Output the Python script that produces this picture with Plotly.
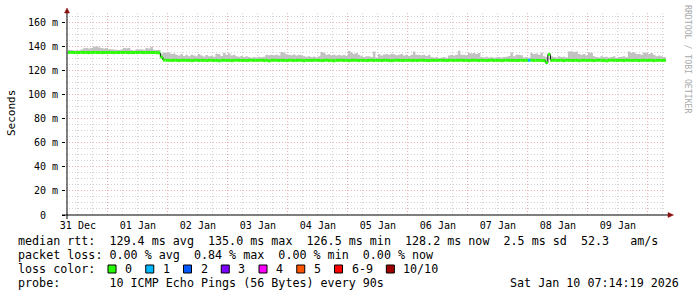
import plotly.graph_objects as go
import pandas as pd

# ---------------- data ----------------
start_time = "2025-12-31 08:00"          # first hourly sample
range_start = "2025-12-31 07:14:19"
range_end = "2026-01-10 07:14:19"

median_ms = [
    134.9, 135.0, 134.9, 134.8, 134.9, 135.0, 134.9, 134.9, 134.8, 134.9, 135.0, 134.9,
    134.9, 134.8, 134.9, 134.9, 135.0, 134.9, 134.8, 134.9, 134.9, 134.9, 135.0, 134.9,
    134.8, 134.9, 134.9, 134.9, 135.0, 134.9, 134.8, 134.9, 134.9, 134.9, 134.9, 134.8,
    134.6, 131.0, 128.6, 128.5, 128.4, 128.3, 128.5, 128.4, 128.2, 128.4, 128.5, 128.3,
    128.4, 128.1, 128.4, 128.5, 128.3, 128.4, 128.4, 128.2, 128.5, 128.4, 128.3, 128.4,
    128.0, 128.4, 128.5, 128.3, 128.4, 128.1, 128.4, 128.5, 128.4, 128.3, 128.4, 128.2,
    128.4, 128.5, 128.3, 128.4, 128.4, 128.5, 128.3, 128.4, 128.0, 128.4, 128.5, 128.4,
    128.3, 128.4, 128.4, 128.2, 128.5, 128.4, 128.3, 128.4, 128.5, 128.4, 128.1, 128.4,
    128.4, 128.3, 128.5, 128.4, 128.4, 128.2, 128.4, 128.5, 128.3, 128.4, 128.0, 128.4,
    128.4, 128.5, 128.3, 128.4, 128.1, 128.4, 128.5, 128.4, 128.3, 128.4, 128.4, 128.2,
    128.4, 128.5, 128.3, 128.4, 128.4, 128.2, 128.5, 128.4, 128.3, 128.1, 128.4, 128.5,
    128.4, 128.3, 128.4, 128.4, 128.5, 128.2, 128.4, 128.3, 128.4, 128.5, 128.4, 128.3,
    128.2, 128.4, 128.4, 128.3, 128.5, 128.4, 128.4, 128.2, 128.4, 128.5, 128.3, 128.4,
    128.4, 128.5, 128.3, 128.4, 128.1, 128.4, 128.5, 128.4, 128.3, 128.4, 128.4, 128.2,
    128.4, 128.5, 128.3, 128.4, 128.4, 128.1, 128.4, 128.5, 128.4, 128.3, 128.4, 128.2,
    128.4, 128.5, 128.3, 128.4, 128.4, 128.5, 128.3, 128.4, 128.4, 128.2, 128.3, 126.5,
    133.4, 128.4, 128.5, 128.3, 128.4, 128.4, 128.2, 128.5, 128.4, 128.3, 128.4, 128.4,
    128.1, 128.4, 128.5, 128.3, 128.4, 128.4, 128.2, 128.4, 128.5, 128.3, 128.4, 128.0,
    128.4, 128.5, 128.4, 128.3, 128.4, 128.4, 128.2, 128.5, 128.4, 128.3, 128.4, 128.4,
    128.2, 128.4, 128.5, 128.3, 128.4, 128.4, 128.1, 128.4, 128.5, 128.3, 128.4, 128.2,
]

smoke_top_ms = [
    137.2, 137.0, 136.6, 136.8, 136.5, 137.4, 138.4, 138.6, 138.2, 138.6, 139.6, 140.0,
    139.2, 138.6, 138.2, 138.6, 137.9, 137.7, 137.4, 137.2, 136.9, 137.3, 138.6, 138.4,
    138.6, 137.0, 136.6, 137.7, 137.5, 137.7, 137.2, 138.6, 138.3, 139.5, 137.2, 137.0,
    137.2, 134.0, 135.0, 134.4, 135.0, 133.6, 134.0, 133.1, 132.5, 133.6, 132.0, 133.1,
    131.7, 133.0, 132.5, 131.7, 133.6, 132.4, 131.5, 132.8, 131.7, 132.2, 131.4, 133.9,
    133.6, 132.0, 134.5, 133.0, 134.2, 132.5, 133.0, 131.7, 131.4, 131.9, 131.2, 131.7,
    131.1, 130.6, 131.1, 130.8, 131.3, 130.9, 131.4, 133.1, 132.6, 133.0, 132.7, 133.1,
    132.4, 135.3, 135.0, 133.4, 133.1, 132.7, 133.3, 132.5, 133.1, 132.6, 131.7, 131.3,
    131.7, 131.1, 131.5, 130.9, 131.7, 135.3, 134.6, 133.1, 133.5, 132.6, 133.1, 132.4,
    133.0, 132.5, 133.1, 132.1, 136.4, 134.9, 133.6, 134.4, 133.1, 131.7, 131.2, 131.7,
    131.7, 131.1, 135.8, 130.8, 133.6, 132.4, 133.2, 133.6, 133.1, 133.9, 133.4, 132.6,
    133.1, 133.6, 132.5, 133.1, 132.1, 133.1, 135.8, 133.1, 133.1, 132.6, 133.1, 132.1,
    133.1, 131.1, 130.8, 131.1, 130.3, 130.8, 131.1, 130.6, 132.5, 133.1, 132.5, 133.0,
    136.4, 133.1, 133.1, 132.6, 134.4, 134.0, 134.4, 133.7, 134.4, 131.1, 130.8, 131.3,
    130.8, 131.1, 130.6, 130.9, 131.2, 130.8, 131.1, 131.4, 132.0, 135.0, 131.7, 133.1,
    133.1, 132.6, 130.8, 131.1, 130.6, 134.4, 133.6, 134.0, 133.1, 134.4, 131.7, 131.2,
    133.8, 131.7, 131.1, 130.8, 131.7, 131.1, 131.4, 130.8, 135.8, 136.0, 135.4, 135.8,
    133.6, 133.1, 133.6, 132.4, 135.0, 134.6, 131.7, 131.1, 130.8, 131.7, 131.1, 131.4,
    130.8, 131.1, 131.7, 130.6, 131.1, 131.4, 131.7, 130.9, 135.8, 134.4, 135.2, 133.6,
    133.6, 133.1, 135.0, 134.4, 133.6, 134.4, 133.1, 131.7, 132.5, 131.7, 131.1, 130.8,
]

loss_times = ["2026-01-08 00:00"]
loss_counts = [1]

loss_labels = ["0", "1", "2", "3", "4", "5", "6-9", "10/10"]
loss_colors = ["#26ff00", "#00b8ff", "#0059ff", "#7e00ff", "#ff00ff", "#ff5500", "#ff0000", "#a10000"]

y_tick_values = [0, 20, 40, 60, 80, 100, 120, 140, 160]
y_tick_labels = ["0\u00a0\u00a0", "20 m", "40 m", "60 m", "80 m", "100 m", "120 m", "140 m", "160 m"]

legend_line1 = "median rtt:  129.4 ms avg  135.0 ms max  126.5 ms min  128.2 ms now  2.5 ms sd  52.3   am/s"
legend_line2 = "packet loss: 0.00 % avg  0.84 % max  0.00 % min  0.00 % now"
legend_line3 = "loss color:"
legend_line4 = "probe:       10 ICMP Echo Pings (56 Bytes) every 90s"
timestamp_text = "Sat Jan 10 07:14:19 2026"
watermark = "RRDTOOL / TOBI OETIKER"
y_title = "Seconds"

# ---------------- derived ----------------
times = pd.date_range(start_time, periods=len(median_ms), freq="h")
times_ext = list(times) + [times[-1] + pd.Timedelta(hours=1)]
med_ext = median_ms + [median_ms[-1]]
top_ext = smoke_top_ms + [smoke_top_ms[-1]]

loss_by_time = {pd.Timestamp(t): c for t, c in zip(loss_times, loss_counts)}


def bucket(count):
    if count <= 5:
        return count
    if count < 10:
        return 6
    return 7


buckets = [bucket(loss_by_time.get(t, 0)) for t in times]

MONO = "DejaVu Sans Mono"
L, R, T, B = 66, 31, 13, 82
W, H = 697, 297
PW, PH = W - L - R, H - T - B


def px(x):
    return (x - L) / PW


def py(y):
    return (H - B - y) / PH


fig = go.Figure()

# smoke band
fig.add_trace(go.Scatter(x=times_ext, y=med_ext, mode="lines", line=dict(width=0, shape="hv"),
                         showlegend=False, hoverinfo="skip"))
fig.add_trace(go.Scatter(x=times_ext, y=top_ext, mode="lines", line=dict(width=0, shape="hv"),
                         fill="tonexty", fillcolor="#c2c2c2", showlegend=False, hoverinfo="skip"))

# black vertical steps where the median jumps
vx, vy = [], []
for i in range(1, len(median_ms)):
    if abs(median_ms[i] - median_ms[i - 1]) > 1.0:
        vx += [times[i], times[i], None]
        vy += [median_ms[i - 1], median_ms[i], None]
fig.add_trace(go.Scatter(x=vx, y=vy, mode="lines", line=dict(width=1, color="#000000"),
                         showlegend=False, hoverinfo="skip"))

# median coloured by loss bucket (horizontal segments)
for b, col in enumerate(loss_colors):
    xs, ys = [], []
    for i, t in enumerate(times):
        if buckets[i] == b:
            xs += [t, times_ext[i + 1], None]
            ys += [median_ms[i], median_ms[i], None]
    if xs:
        fig.add_trace(go.Scatter(x=xs, y=ys, mode="lines", line=dict(width=3, color=col),
                                 showlegend=False, hoverinfo="skip"))

major_grid = "#eab0b0"
minor_grid = "#d4d4d4"

fig.update_xaxes(
    type="date", range=[range_start, range_end],
    tick0="2025-12-31", dtick=86400000, ticklabelmode="period", tickformat="%d %b",
    showgrid=True, gridcolor=major_grid, griddash="1px,2px", gridwidth=1,
    showline=False, zeroline=False, ticks="", ticklabelstandoff=3,
    tickfont=dict(family=MONO, size=10, color="#000000"),
    minor=dict(dtick=6 * 3600000, tick0="2025-12-31", showgrid=True, gridcolor=minor_grid,
               griddash="1px,2px", gridwidth=1),
    fixedrange=True,
)
fig.update_yaxes(
    range=[0, 167.7], tickvals=y_tick_values, ticktext=y_tick_labels,
    showgrid=True, gridcolor=major_grid, griddash="1px,2px", gridwidth=1,
    showline=False, zeroline=False, ticks="outside", ticklen=3, tickcolor="#000000",
    ticklabelstandoff=2,
    tickfont=dict(family=MONO, size=10, color="#000000"),
    minor=dict(dtick=5, showgrid=True, gridcolor=minor_grid, griddash="1px,2px", gridwidth=1),
    fixedrange=True,
)

shapes = [
    dict(type="line", xref="paper", yref="paper", x0=px(62), x1=px(669), y0=0, y1=0,
         line=dict(color="#000000", width=1)),
    dict(type="line", xref="paper", yref="paper", x0=px(67), x1=px(67), y0=py(219), y1=py(11),
         line=dict(color="#000000", width=1)),
    dict(type="path", xref="paper", yref="paper",
         path=f"M {px(64.5)},{py(13)} L {px(69.5)},{py(13)} L {px(67)},{py(8)} Z",
         fillcolor="#8b1010", line=dict(color="#8b1010", width=0.5)),
    dict(type="path", xref="paper", yref="paper",
         path=f"M {px(668)},{py(212.5)} L {px(668)},{py(217.5)} L {px(673.5)},{py(215)} Z",
         fillcolor="#8b1010", line=dict(color="#8b1010", width=0.5)),
]

annotations = [
    dict(text=y_title, xref="paper", yref="paper", x=px(11), y=py(113), textangle=-90,
         showarrow=False, font=dict(family=MONO, size=11, color="#000000"), xanchor="center", yanchor="middle"),
    dict(text=watermark, xref="paper", yref="paper", x=px(688), y=py(59), textangle=90,
         showarrow=False, font=dict(family=MONO, size=8.2, color="#aaaaaa"), xanchor="center", yanchor="middle"),
]

legend_rows = [(legend_line1, 241.5), (legend_line2, 255.2), (legend_line3, 269.2), (legend_line4, 282.8)]
for txt, yy in legend_rows:
    annotations.append(dict(text=txt.replace(" ", "\u00a0"), xref="paper", yref="paper", x=px(15.5), y=py(yy),
                            showarrow=False, xanchor="left", yanchor="middle",
                            font=dict(family=MONO, size=11.7, color="#000000")))
annotations.append(dict(text=timestamp_text.replace(" ", "\u00a0"), xref="paper", yref="paper", x=px(681),
                        y=py(282.8), showarrow=False, xanchor="right", yanchor="middle",
                        font=dict(family=MONO, size=11.7, color="#000000")))

pos = 108.0
for lab, col in zip(loss_labels, loss_colors):
    shapes.append(dict(type="rect", xref="paper", yref="paper", x0=px(pos), x1=px(pos + 8),
                       y0=py(273), y1=py(265), fillcolor=col, line=dict(color="#000000", width=1)))
    annotations.append(dict(text=lab, xref="paper", yref="paper", x=px(pos + 15), y=py(269.2),
                            showarrow=False, xanchor="left", yanchor="middle",
                            font=dict(family=MONO, size=11.7, color="#000000")))
    pos += 16 + 7.05 * len(lab) + 14.7

fig.update_layout(
    width=W, height=H, margin=dict(l=L, r=R, t=T, b=B),
    paper_bgcolor="#ffffff", plot_bgcolor="#ffffff",
    shapes=shapes, annotations=annotations, showlegend=False,
)

fig.write_html("out.html")
